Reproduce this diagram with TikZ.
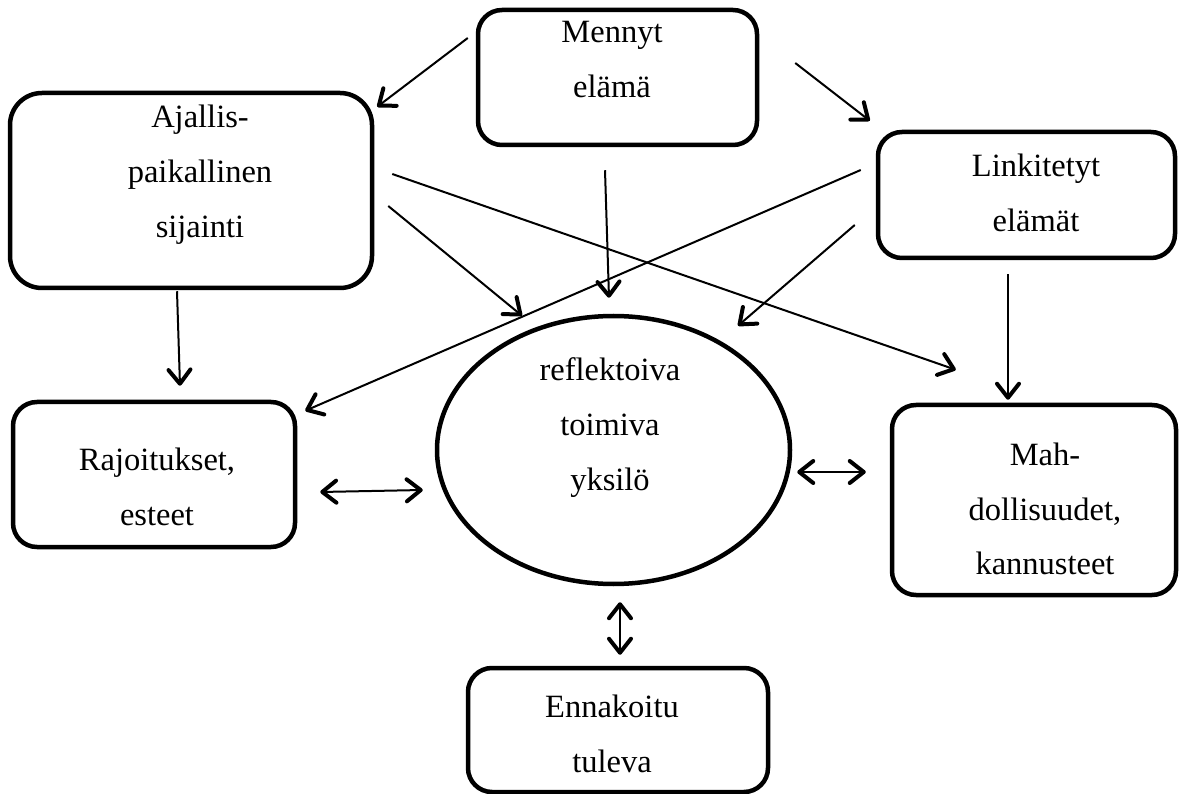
\documentclass[tikz,border=0pt]{standalone}
\usepackage{fontspec}
\setmainfont{Liberation Serif}
\usetikzlibrary{arrows.meta,shapes.geometric}
\newcommand{\lines}[1]{\begin{tabular}[t]{@{}c@{}}#1\end{tabular}}
\begin{document}
\begin{tikzpicture}[x=1pt,y=-1pt,
  box/.style={draw, line width=4.5pt, rounded corners=24pt, inner sep=0pt},
  oval/.style={draw, ellipse, line width=4.5pt, inner sep=0pt},
  lbl/.style={anchor=base, inner sep=0pt, font=\fontsize{32.5}{55}\selectfont},
  barb/.tip={Straight Barb[length=14pt,width=22pt,line width=4pt,round]},
  conn/.style={line width=2pt, -barb},
  dconn/.style={line width=2pt, barb-barb},
]
\useasboundingbox (0,0) rectangle (1179,794);

% boxes
\node[box, minimum width=279pt, minimum height=135pt] (men) at (617.5,77.5) {};
\node[box, rounded corners=32pt, minimum width=362pt, minimum height=195pt] (aja) at (191,190.5) {};
\node[box, minimum width=297pt, minimum height=126pt] (lin) at (1026.5,195) {};
\node[box, minimum width=282pt, minimum height=145pt] (raj) at (154,474.5) {};
\node[oval, minimum width=353pt, minimum height=268pt] (ell) at (613.5,450) {};
\node[box, minimum width=284pt, minimum height=190pt] (mah) at (1034,500) {};
\node[box, minimum width=300pt, minimum height=124pt] (enn) at (618,730) {};

% texts
\node[lbl] (tmen) at (612,43) {\lines{Mennyt\\elämä}};
\node[lbl] (taja) at (200,128) {\lines{Ajallis-\\paikallinen\\sijainti}};
\node[lbl] (tlin) at (1036,177) {\lines{Linkitetyt\\elämät}};
\node[lbl] (traj) at (157,470) {\lines{Rajoitukset,\\esteet}};
\node[lbl] (tell) at (610,381) {\lines{reflektoiva\\toimiva\\yksilö}};
\node[lbl] (tmah) at (1045,465) {\lines{Mah-\\dollisuudet,\\kannusteet}};
\node[lbl] (tenn) at (612,717) {\lines{Ennakoitu\\tuleva}};

% connectors
\draw[conn] ([shift={(-8,-39.5)}]men.west) -- ([shift={(3,16)}]aja.north east);
\draw[conn] ([shift={(36,-14.5)}]men.east) -- ([shift={(-6,-9)}]lin.north west);
\draw[conn] ([shift={(-12.5,23)}]men.south) -- ([shift={(-4.5,-16)}]ell.north);
\draw[conn] ([shift={(14,15.5)}]aja.east) -- ([shift={(-91.5,2)}]ell.north);
\draw[conn] ([shift={(18,-16.5)}]aja.east) -- ([shift={(66,-33)}]mah.north west);
\draw[conn] ([shift={(-15,-25)}]lin.west) -- ([shift={(8,11)}]raj.north east);
\draw[conn] ([shift={(-21,30)}]lin.west) -- ([shift={(124.5,12)}]ell.north);
\draw[conn] ([shift={(-18.5,14)}]lin.south) -- ([shift={(-26,-3)}]mah.north);
\draw[conn] ([shift={(-14,1)}]aja.south) -- ([shift={(26,-14)}]raj.north);
\draw[dconn] ([shift={(23,17.5)}]raj.east) -- ([shift={(-12,40)}]ell.west);
\draw[dconn] ([shift={(5,22)}]ell.east) -- ([shift={(-24,-28)}]mah.west);
\draw[dconn] ([shift={(6.5,16)}]ell.south) -- ([shift={(2,-11)}]enn.north);
\end{tikzpicture}
\end{document}
